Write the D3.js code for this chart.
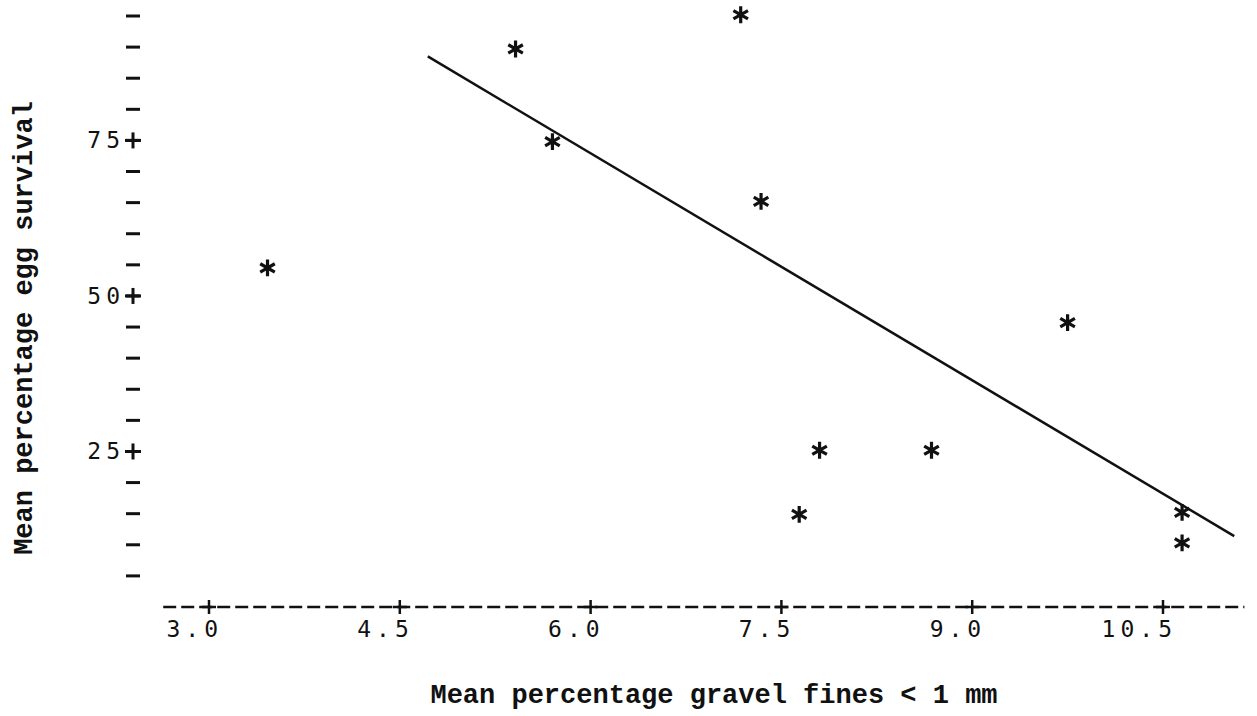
<!DOCTYPE html>
<html>
<head>
<meta charset="utf-8">
<script src="https://cdn.jsdelivr.net/npm/d3@7"></script>
<style>
  html, body { margin: 0; padding: 0; background: #fff; }
  svg { display: block; }
  .tick-label { font-family: "DejaVu Sans Mono", monospace; font-size: 23px; fill: #111; letter-spacing: 5px; }
  .title { font-family: "Liberation Mono", "Courier New", monospace; font-size: 27px; font-weight: bold; fill: #111; }
</style>
</head>
<body>
<script>
// Egg survival vs gravel fines, line-printer style scatter.

const fines = [3.46, 5.41, 5.70, 7.18, 7.34, 7.64, 7.80, 8.68, 9.75, 10.65, 10.65];
const survival = [54.5, 89.7, 74.8, 95.2, 65.2, 14.9, 25.2, 25.2, 45.7, 15.2, 10.3];

// fitted line at its two ends
const fitX = [4.72, 11.06];
const fitY = [88.5, 11.4];

const xTicks = [3.0, 4.5, 6.0, 7.5, 9.0, 10.5];
const xTickLabels = ["3.0", "4.5", "6.0", "7.5", "9.0", "10.5"];
const yMinorTicks = d3.range(5, 100, 5);
const yMajorTicks = [25, 50, 75];
const yTickLabels = ["25", "50", "75"];

const WIDTH = 1257;
const HEIGHT = 716;

const svg = d3.select("body").append("svg")
    .attr("width", WIDTH)
    .attr("height", HEIGHT);

const x = d3.scaleLinear().domain([3, 10.5]).range([209, 1163]);
const y = d3.scaleLinear().domain([0, 95]).range([607, 16]);

// x axis: dashed printer line with "+" at the ticks
svg.append("line")
    .attr("x1", x(2.64)).attr("x2", x(11.14))
    .attr("y1", y(0)).attr("y2", y(0))
    .attr("stroke", "#111")
    .attr("stroke-width", 2.5)
    .attr("stroke-dasharray", "13,5");

const xt = svg.append("g").selectAll("g")
    .data(xTicks)
    .join("g")
    .attr("transform", d => `translate(${x(d)},${y(0)})`);

xt.append("line")
    .attr("y1", -7).attr("y2", 7)
    .attr("stroke", "#111").attr("stroke-width", 2.5);
xt.append("line")
    .attr("x1", -7).attr("x2", 7)
    .attr("stroke", "#111").attr("stroke-width", 2.5);

xt.append("text")
    .attr("class", "tick-label")
    .attr("x", 14)
    .attr("y", 30)
    .attr("text-anchor", "end")
    .text((d, i) => xTickLabels[i]);

// y axis: dashes every 5, "+" with label at 25/50/75
const yAxisX = 133;

svg.append("g").selectAll("line")
    .data(yMinorTicks)
    .join("line")
    .attr("x1", yAxisX - 7).attr("x2", yAxisX + 7)
    .attr("y1", d => y(d)).attr("y2", d => y(d))
    .attr("stroke", "#111").attr("stroke-width", 3);

const yt = svg.append("g").selectAll("g")
    .data(yMajorTicks)
    .join("g")
    .attr("transform", d => `translate(${yAxisX},${y(d)})`);

yt.append("line")
    .attr("x1", -8).attr("x2", 8)
    .attr("stroke", "#111").attr("stroke-width", 3);
yt.append("line")
    .attr("y1", -8).attr("y2", 8)
    .attr("stroke", "#111").attr("stroke-width", 3);

yt.append("text")
    .attr("class", "tick-label")
    .attr("x", -8)
    .attr("y", 8)
    .attr("text-anchor", "end")
    .text((d, i) => yTickLabels[i]);

// fitted line
svg.append("line")
    .attr("x1", x(fitX[0])).attr("y1", y(fitY[0]))
    .attr("x2", x(fitX[1])).attr("y2", y(fitY[1]))
    .attr("stroke", "#111")
    .attr("stroke-width", 2.5);

// asterisk points
const asterisk = d3.symbolAsterisk || {
    draw(context, size) {
        const r = Math.sqrt(size + Math.min(size / 28, 0.75)) * 0.59436;
        const t = r / 2;
        const u = t * Math.sqrt(3);
        context.moveTo(0, r);
        context.lineTo(0, -r);
        context.moveTo(-u, -t);
        context.lineTo(u, t);
        context.moveTo(-u, t);
        context.lineTo(u, -t);
    }
};

svg.append("g").selectAll("path")
    .data(fines.map((f, i) => ({ f, s: survival[i] })))
    .join("path")
    .attr("transform", d => `translate(${x(d.f)},${y(d.s)})`)
    .attr("d", d3.symbol().type(asterisk).size(200))
    .attr("fill", "none")
    .attr("stroke", "#111")
    .attr("stroke-width", 3.2);

// axis titles
svg.append("text")
    .attr("class", "title")
    .attr("x", 714)
    .attr("y", 703)
    .attr("text-anchor", "middle")
    .text("Mean percentage gravel fines < 1 mm");

svg.append("text")
    .attr("class", "title")
    .attr("transform", "translate(32,328) rotate(-90)")
    .attr("text-anchor", "middle")
    .text("Mean percentage egg survival");
</script>
</body>
</html>
